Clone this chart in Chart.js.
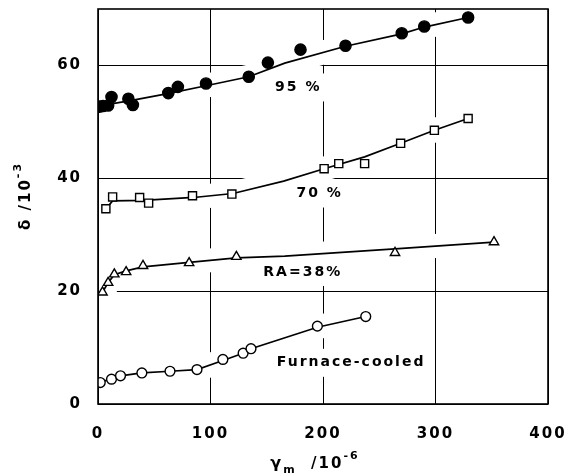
<!DOCTYPE html>
<html><head><meta charset="utf-8">
<script src="https://cdn.jsdelivr.net/npm/chart.js@4"></script>
<style>html,body{margin:0;padding:0;background:#fff}#wrap{width:575px;height:476px}</style>
</head><body><div id="wrap"><canvas id="c"></canvas></div>
<script>
// ---- data ----
const xTicks = [0, 100, 200, 300, 400];
const yTicks = [0, 20, 40, 60];

// RA 95 % (filled circles)
const g95 = [1.5, 4.5, 9, 12, 27, 31, 62.5, 71, 96, 134, 151, 180, 220, 270, 290, 329];
const d95 = [52.7, 52.8, 52.9, 54.4, 54.1, 53.0, 55.1, 56.2, 56.8, 58.0, 60.5, 62.8, 63.5, 65.7, 66.9, 68.5];
const c95g = [0, 30, 62, 96, 134, 166, 220, 270, 290, 329];
const c95d = [52.8, 53.8, 55.0, 56.4, 58.0, 60.4, 63.4, 65.6, 66.8, 68.5];

// RA 70 % (open squares)
const g70 = [7, 13, 37, 45, 84, 119, 201, 214, 237, 269, 299, 329];
const d70 = [34.6, 36.7, 36.6, 35.6, 36.9, 37.2, 41.7, 42.6, 42.6, 46.2, 48.5, 50.6];
const c70g = [7, 13, 40, 85, 120, 165, 201, 237, 269, 299, 329];
const c70d = [34.6, 36.0, 36.1, 36.6, 37.3, 39.5, 41.7, 43.8, 46.2, 48.5, 50.6];

// RA 38 % (open triangles)
const g38 = [4, 9, 14.5, 25, 40, 81, 123, 264, 352];
const d38 = [19.8, 21.5, 23.0, 23.4, 24.5, 25.0, 26.1, 26.8, 28.7];
const c38g = [4, 9, 14.5, 25, 40, 81, 123, 166, 264, 352];
const c38d = [19.8, 21.5, 22.9, 23.6, 24.3, 25.1, 25.9, 26.2, 27.5, 28.7];

// Furnace-cooled (open circles)
const gFc = [2, 12, 20, 39, 64, 88, 111, 129, 136, 195, 238];
const dFc = [3.8, 4.4, 5.0, 5.5, 5.8, 6.1, 7.9, 9.0, 9.8, 13.8, 15.5];
const cFcg = [2, 12, 20, 39, 64, 88, 111, 129, 136, 195, 238];
const cFcd = [3.8, 4.5, 5.0, 5.5, 5.8, 6.1, 7.7, 9.0, 9.8, 13.6, 15.5];

// in-plot annotations
const noteText = ['95 %', '70 %', 'RA=38%', 'Furnace-cooled'];
const noteG = [178, 197, 182, 225];
const noteD = [56.1, 37.3, 23.4, 7.3];

const pts = (g, d) => g.map((x, i) => ({ x, y: d[i] }));
const FONT = '"DejaVu Sans", sans-serif';

function curve(g, d) {
  return { data: pts(g, d), showLine: true, isCurve: true, pointRadius: 0, borderColor: '#000',
           borderWidth: 1.7, tension: 0, order: 1 };
}
function marks(g, d, style, r, fill) {
  return { data: pts(g, d), showLine: false, pointStyle: style, pointRadius: r,
           pointBackgroundColor: fill, pointBorderColor: '#000', pointBorderWidth: 1.4, order: 0 };
}

function drawRich(ctx, segs, x, y) {
  let w = 0;
  segs.forEach(s => { ctx.font = `bold ${s.size}px ${FONT}`; s.w = ctx.measureText(s.t).width; w += s.w; });
  let cx = x - w / 2;
  ctx.textAlign = 'left';
  ctx.textBaseline = 'middle';
  segs.forEach(s => { ctx.font = `bold ${s.size}px ${FONT}`; ctx.fillText(s.t, cx, y + s.dy); cx += s.w; });
}

const deco = {
  id: 'deco',
  beforeDraw(chart) { chart.ctx.letterSpacing = '2px'; },
  beforeDatasetsDraw(chart) {
    const ctx = chart.ctx, a = chart.chartArea;
    ctx.save();
    ctx.beginPath(); ctx.rect(a.left + 1, a.top + 1, a.right - a.left - 2, a.bottom - a.top - 2); ctx.clip();
    ctx.strokeStyle = '#fff'; ctx.lineWidth = 24; ctx.lineJoin = 'round'; ctx.lineCap = 'round';
    chart.data.datasets.forEach((ds, i) => {
      if (!ds.isCurve) return;
      const m = chart.getDatasetMeta(i);
      ctx.beginPath();
      m.data.forEach((p, j) => j ? ctx.lineTo(p.x, p.y) : ctx.moveTo(p.x, p.y));
      ctx.stroke();
    });
    ctx.fillStyle = '#fff';
    ctx.font = `bold 14px ${FONT}`;
    noteText.forEach((t, i) => {
      const x = chart.scales.x.getPixelForValue(noteG[i]);
      const y = chart.scales.y.getPixelForValue(noteD[i]);
      const w = ctx.measureText(t).width;
      ctx.fillRect(x - w / 2 - 8, y - 14, w + 16, 28);
    });
    ctx.restore();
  },
  afterDraw(chart) {
    const ctx = chart.ctx, a = chart.chartArea;
    ctx.save();
    ctx.strokeStyle = '#000'; ctx.lineWidth = 1.6;
    ctx.strokeRect(a.left, a.top, a.right - a.left, a.bottom - a.top);
    ctx.fillStyle = '#000';
    ctx.font = `bold 14px ${FONT}`;
    ctx.textAlign = 'center'; ctx.textBaseline = 'middle';
    noteText.forEach((t, i) => {
      ctx.fillText(t, chart.scales.x.getPixelForValue(noteG[i]), chart.scales.y.getPixelForValue(noteD[i]));
    });
    // x title
    drawRich(ctx, [{ t: 'γ', size: 16, dy: 0 }, { t: 'm', size: 11, dy: 6 }, { t: '  /10', size: 15, dy: 0 }, { t: '-6', size: 11, dy: -8 }], 315, 464);
    // y title
    ctx.translate(26, 196); ctx.rotate(-Math.PI / 2);
    drawRich(ctx, [{ t: 'δ /10', size: 15, dy: 0 }, { t: '-3', size: 11, dy: -8 }], 0, 0);
    ctx.restore();
    ctx.letterSpacing = '0px';
  }
};

const tickFont = { family: FONT, size: 15, weight: 'bold' };
new Chart(document.getElementById('c'), {
  type: 'scatter',
  data: {
    datasets: [
      marks(g95, d95, 'circle', 5.6, '#000'),
      marks(g70, d70, 'rect', 5.7, '#fff'),
      marks(g38, d38, 'triangle', 5.4, '#fff'),
      marks(gFc, dFc, 'circle', 4.9, '#fff'),
      curve(c95g, c95d), curve(c70g, c70d), curve(c38g, c38d), curve(cFcg, cFcd)
    ]
  },
  options: {
    responsive: true, maintainAspectRatio: false, animation: false,
    layout: { padding: { top: 9, right: 27, left: 0, bottom: 0 } },
    plugins: { legend: { display: false }, tooltip: { enabled: false } },
    scales: {
      x: {
        type: 'linear', min: 0, max: 400,
        afterBuildTicks: s => { s.ticks = xTicks.map(v => ({ value: v })); },
        afterFit: s => { s.height = 72; s.paddingLeft = 0; s.paddingRight = 0; s.paddingTop = 0; s.paddingBottom = 0; },
        grid: { color: '#000', lineWidth: 1, drawTicks: false },
        border: { display: false },
        ticks: { color: '#000', font: tickFont, padding: 21, maxRotation: 0 }
      },
      y: {
        type: 'linear', min: 0, max: 70,
        afterBuildTicks: s => { s.ticks = yTicks.map(v => ({ value: v })); },
        afterFit: s => { s.width = 98; s.paddingTop = 0; s.paddingBottom = 0; s.paddingLeft = 0; s.paddingRight = 0; },
        grid: { color: '#000', lineWidth: 1, drawTicks: false },
        border: { display: false },
        ticks: { color: '#000', font: tickFont, padding: 16 }
      }
    }
  },
  plugins: [deco]
});
</script></body></html>
